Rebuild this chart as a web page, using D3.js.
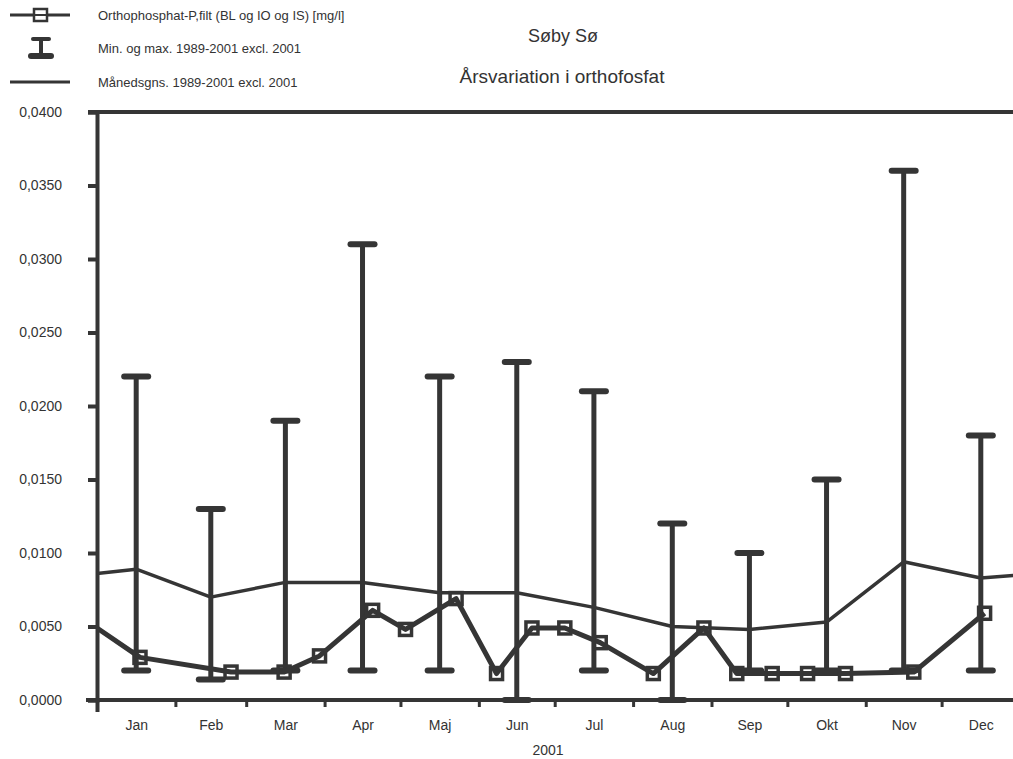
<!DOCTYPE html>
<html>
<head>
<meta charset="utf-8">
<script src="https://cdn.jsdelivr.net/npm/d3@7"></script>
<style>
  body { margin: 0; background: #fff; }
  text { font-family: "Liberation Sans", Arial, sans-serif; fill: #333; }
</style>
</head>
<body>
<svg id="chart" width="1013" height="759"></svg>
<script>
// data
var months = ["Jan", "Feb", "Mar", "Apr", "Maj", "Jun", "Jul", "Aug", "Sep", "Okt", "Nov", "Dec"];
var maxValues = [0.022, 0.013, 0.019, 0.031, 0.022, 0.023, 0.021, 0.012, 0.010, 0.015, 0.036, 0.018];
var minValues = [0.002, 0.0014, 0.002, 0.002, 0.002, 0.000, 0.002, 0.000, 0.002, 0.002, 0.002, 0.002];
var meanValues = [0.0089, 0.0070, 0.0080, 0.0080, 0.0073, 0.0073, 0.0063, 0.0050, 0.0048, 0.0053, 0.0094, 0.0083];
var meanStart = 0.0086, meanEnd = 0.0085; // line runs on to the frame edges
var sampleDates = ["2001-01-01", "2001-01-18", "2001-02-23", "2001-03-16", "2001-03-30", "2001-04-20",
  "2001-05-03", "2001-05-23", "2001-06-08", "2001-06-22", "2001-07-05", "2001-07-19", "2001-08-09",
  "2001-08-29", "2001-09-11", "2001-09-25", "2001-10-09", "2001-10-24", "2001-11-20", "2001-12-18"];
var sampleValues = [0.0049, 0.0029, 0.0019, 0.0019, 0.0030, 0.0061, 0.0048, 0.0069, 0.0018, 0.0049,
  0.0049, 0.0039, 0.0018, 0.0049, 0.0018, 0.0018, 0.0018, 0.0018, 0.0019, 0.0059];
var yTicks = [0, 0.005, 0.01, 0.015, 0.02, 0.025, 0.03, 0.035, 0.04];

var ink = "#353535";
var svg = d3.select("#chart");
var parse = d3.timeParse("%Y-%m-%d");
var comma = d3.formatLocale({ decimal: ",", thousands: ".", grouping: [3], currency: ["", ""] }).format(".4f");

var t0 = new Date(2001, 0, 1), t1 = new Date(2002, 0, 1);
var x = d3.scaleTime().domain([t0, t1]).range([97, 1020]);
var y = d3.scaleLinear().domain([0, 0.04]).range([700, 112]);

// month midpoints (where the min/max bars and mean points sit)
var mids = months.map(function (m, i) {
  var a = new Date(2001, i, 1), b = new Date(2001, i + 1, 1);
  return new Date((a.getTime() + b.getTime()) / 2);
});

svg.append("defs").append("clipPath").attr("id", "plot")
  .append("rect").attr("x", 97).attr("y", 100).attr("width", 930).attr("height", 606);

// y axis
var yAxis = svg.append("g")
  .attr("transform", "translate(97,0)")
  .call(d3.axisLeft(y).tickValues(yTicks).tickFormat(comma).tickSize(9).tickPadding(26));
yAxis.select(".domain").attr("stroke", ink).attr("stroke-width", 4);
yAxis.selectAll(".tick line").attr("stroke", ink).attr("stroke-width", 4);
yAxis.selectAll(".tick text").attr("font-size", 14).attr("fill", ink).attr("font-family", "Liberation Sans, Arial, sans-serif");

// frame top line
svg.append("line")
  .attr("x1", 88).attr("x2", 1013)
  .attr("y1", y(0.04)).attr("y2", y(0.04))
  .attr("stroke", ink).attr("stroke-width", 4);

// x axis: ticks at month starts, labels at month middles
var monthStarts = d3.timeMonth.range(t0, t1);
var xAxis = svg.append("g")
  .attr("transform", "translate(0," + y(0) + ")")
  .call(d3.axisBottom(x).tickValues(monthStarts).tickFormat("").tickSize(7).tickSizeOuter(0));
xAxis.select(".domain").attr("stroke", ink).attr("stroke-width", 4)
  .attr("d", "M86,0H1013");
xAxis.selectAll(".tick line").attr("stroke", ink).attr("stroke-width", 3);
xAxis.select(".tick line").attr("y2", 12).attr("stroke-width", 4);

var xLabels = svg.append("g")
  .attr("transform", "translate(0," + y(0) + ")")
  .call(d3.axisBottom(x).tickValues(mids).tickSize(0).tickPadding(20)
    .tickFormat(function (d, i) { return months[i]; }));
xLabels.select(".domain").remove();
xLabels.selectAll("text").attr("font-size", 14).attr("fill", ink).attr("font-family", "Liberation Sans, Arial, sans-serif");

svg.append("text")
  .attr("x", 548).attr("y", 755)
  .attr("text-anchor", "middle")
  .attr("font-size", 14)
  .text("2001");

var plot = svg.append("g").attr("clip-path", "url(#plot)");

// mean line
var meanPts = [[t0, meanStart]].concat(mids.map(function (d, i) { return [d, meanValues[i]]; }))
  .concat([[new Date(2001, 11, 31), meanEnd]]);
plot.append("path")
  .datum(meanPts)
  .attr("fill", "none")
  .attr("stroke", ink)
  .attr("stroke-width", 3.5)
  .attr("stroke-linejoin", "round")
  .attr("d", d3.line().x(function (d) { return x(d[0]); }).y(function (d) { return y(d[1]); }));

// min/max bars
var bars = plot.append("g").selectAll("g")
  .data(months)
  .enter()
  .append("g");
bars.append("line")
  .attr("x1", function (d, i) { return x(mids[i]); })
  .attr("x2", function (d, i) { return x(mids[i]); })
  .attr("y1", function (d, i) { return y(minValues[i]); })
  .attr("y2", function (d, i) { return y(maxValues[i]); })
  .attr("stroke", ink).attr("stroke-width", 5);
[maxValues, minValues].forEach(function (vals) {
  bars.append("line")
    .attr("x1", function (d, i) { return x(mids[i]) - 12; })
    .attr("x2", function (d, i) { return x(mids[i]) + 12; })
    .attr("y1", function (d, i) { return y(vals[i]); })
    .attr("y2", function (d, i) { return y(vals[i]); })
    .attr("stroke", ink).attr("stroke-width", 6).attr("stroke-linecap", "round");
});

// 2001 measurements
var samples = sampleDates.map(function (d, i) { return { date: parse(d), value: sampleValues[i] }; });
plot.append("path")
  .datum(samples)
  .attr("fill", "none")
  .attr("stroke", ink)
  .attr("stroke-width", 5)
  .attr("stroke-linejoin", "round")
  .attr("d", d3.line().x(function (d) { return x(d.date); }).y(function (d) { return y(d.value); }));
plot.append("g").selectAll("rect")
  .data(samples.filter(function (d) { return d.date > t0; }))
  .enter()
  .append("rect")
  .attr("x", function (d) { return x(d.date) - 6; })
  .attr("y", function (d) { return y(d.value) - 6; })
  .attr("width", 12).attr("height", 12)
  .attr("fill", "none")
  .attr("stroke", ink).attr("stroke-width", 3.5);

// titles
svg.append("text").attr("x", 563).attr("y", 42).attr("text-anchor", "middle")
  .attr("font-size", 18).text("Søby Sø");
svg.append("text").attr("x", 562).attr("y", 83).attr("text-anchor", "middle")
  .attr("font-size", 19).text("Årsvariation i orthofosfat");

// legend
var legendText = ["Orthophosphat-P,filt (BL og IO og IS) [mg/l]", "Min. og max. 1989-2001 excl. 2001", "Månedsgns. 1989-2001 excl. 2001"];
var legendY = [15, 48, 82];
svg.append("g").selectAll("text")
  .data(legendText)
  .enter()
  .append("text")
  .attr("x", 98)
  .attr("y", function (d, i) { return legendY[i] + 5; })
  .attr("font-size", 13)
  .text(function (d) { return d; });

var lg = svg.append("g").attr("stroke", ink);
lg.append("line").attr("x1", 10).attr("x2", 70).attr("y1", legendY[0]).attr("y2", legendY[0]).attr("stroke-width", 3);
lg.append("rect").attr("x", 34).attr("y", legendY[0] - 6).attr("width", 13).attr("height", 12)
  .attr("fill", "#fff").attr("stroke-width", 2.5);
lg.append("line").attr("x1", 34).attr("x2", 47).attr("y1", legendY[0]).attr("y2", legendY[0]).attr("stroke-width", 2);
lg.append("line").attr("x1", 41).attr("x2", 41).attr("y1", legendY[1] - 9).attr("y2", legendY[1] + 8).attr("stroke-width", 4);
lg.append("line").attr("x1", 33).attr("x2", 49).attr("y1", legendY[1] - 9).attr("y2", legendY[1] - 9)
  .attr("stroke-width", 4).attr("stroke-linecap", "round");
lg.append("line").attr("x1", 31).attr("x2", 51).attr("y1", legendY[1] + 8).attr("y2", legendY[1] + 8)
  .attr("stroke-width", 6).attr("stroke-linecap", "round");
lg.append("line").attr("x1", 10).attr("x2", 70).attr("y1", legendY[2]).attr("y2", legendY[2]).attr("stroke-width", 3);
</script>
</body>
</html>
